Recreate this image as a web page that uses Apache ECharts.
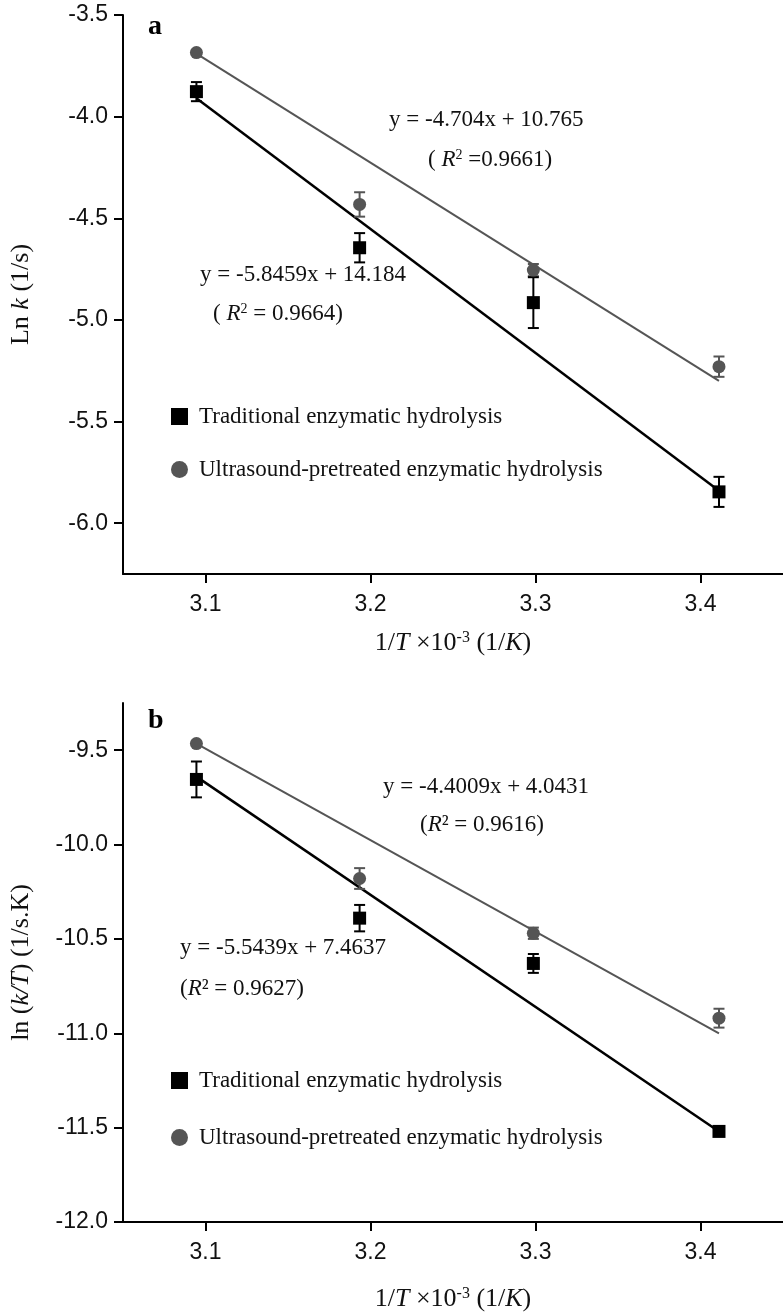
<!DOCTYPE html>
<html><head><meta charset="utf-8">
<script src="https://cdn.jsdelivr.net/npm/echarts@6/dist/echarts.min.js"></script>
<style>html,body{margin:0;padding:0;background:#fff}#c{width:783px;height:1316px}</style>
</head><body><div id="c"></div>
<script>
// ---- data ----
const xTicks = [3.1, 3.2, 3.3, 3.4];
const yTicksA = [-6.0, -5.5, -5.0, -4.5, -4.0, -3.5];
const yTicksB = [-12.0, -11.5, -11.0, -10.5, -10.0, -9.5];
const invT = [3.0945, 3.1934, 3.2987, 3.4112];
const aTradVal = [-3.877, -4.645, -4.915, -5.846];
const aTradErr = [0.047, 0.072, 0.125, 0.074];
const aUltraVal = [-3.685, -4.432, -4.755, -5.23];
const aUltraErr = [0.01, 0.06, 0.03, 0.05];
const bTradVal = [-9.655, -10.39, -10.63, -11.52];
const bTradErr = [0.095, 0.07, 0.05, 0.015];
const bUltraVal = [-9.465, -10.18, -10.47, -10.92];
const bUltraErr = [0.01, 0.055, 0.03, 0.05];
// trend line end values (at first and last x)
const fitX = [3.0945, 3.4112];
const aTradFit = [-3.91, -5.84];
const aUltraFit = [-3.69, -5.30];
const bTradFit = [-9.64, -11.52];
const bUltraFit = [-9.465, -11.0];
const nameTrad = 'Traditional enzymatic hydrolysis';
const nameUltra = 'Ultrasound-pretreated enzymatic hydrolysis';

const SERIF = "'Liberation Serif', 'Times New Roman', serif";
const SANS = "'Liberation Sans', Arial, sans-serif";
const GRAY = '#555555';
const BLACK = '#000000';

function pts(vals){ return invT.map((x,i)=>[x, vals[i]]); }
function errPts(vals, errs){ return invT.map((x,i)=>[x, vals[i], errs[i]]); }
function fitPts(v){ return fitX.map((x,i)=>[x, v[i]]); }

function errRender(color){
  return function(params, api){
    const x = api.value(0), y = api.value(1), e = api.value(2);
    const t = api.coord([x, y + e]), b = api.coord([x, y - e]);
    const hw = 5.5;
    const st = {stroke: color, lineWidth: 2};
    return {type:'group', children:[
      {type:'line', shape:{x1:t[0], y1:t[1], x2:b[0], y2:b[1]}, style:st},
      {type:'line', shape:{x1:t[0]-hw, y1:t[1], x2:t[0]+hw, y2:t[1]}, style:st},
      {type:'line', shape:{x1:b[0]-hw, y1:b[1], x2:b[0]+hw, y2:b[1]}, style:st}
    ]};
  };
}

const richText = {
  t: {fontFamily: SERIF, fontSize: 23, color: '#111'},
  i: {fontFamily: SERIF, fontSize: 23, fontStyle: 'italic', color: '#111'},
  s: {fontFamily: SERIF, fontSize: 14, color: '#111', verticalAlign: 'top'}
};
const richTitle = {
  t: {fontFamily: SERIF, fontSize: 26, color: '#111'},
  i: {fontFamily: SERIF, fontSize: 26, fontStyle: 'italic', color: '#111'},
  s: {fontFamily: SERIF, fontSize: 16, color: '#111', verticalAlign: 'top'}
};

function xAxisDef(gi){
  return {
    type: 'value', gridIndex: gi, min: 3.05, max: 3.45,
    name: '{t|1/}{i|T}{t| ×10}{s|-3}{t| (1/}{i|K}{t|)}',
    nameLocation: 'middle', nameGap: gi === 0 ? 56 : 64,
    nameTextStyle: {rich: richTitle},
    axisLine: {onZero: false, lineStyle: {color: BLACK, width: 2}},
    axisTick: {customValues: xTicks, length: 9, lineStyle: {color: BLACK, width: 2}},
    axisLabel: {customValues: xTicks, margin: 19, fontFamily: SANS, fontSize: 23, color: '#111',
      formatter: v => v.toFixed(1)},
    splitLine: {show: false}
  };
}
function yAxisDef(gi, ticks, min, max, nameStr){
  return {
    type: 'value', gridIndex: gi, min: min, max: max,
    name: nameStr, nameLocation: 'middle', nameRotate: 90, nameGap: 89,
    nameTextStyle: {rich: richTitle},
    axisLine: {onZero: false, lineStyle: {color: BLACK, width: 2}},
    axisTick: {customValues: ticks, length: 9, lineStyle: {color: BLACK, width: 2}},
    axisLabel: {customValues: ticks, margin: 15, fontFamily: SANS, fontSize: 23, color: '#111',
      formatter: v => v.toFixed(1)},
    splitLine: {show: false}
  };
}

function panelSeries(gi, tradV, tradE, ultV, ultE, tradFit, ultFit){
  return [
    {type:'line', xAxisIndex:gi, yAxisIndex:gi, data: fitPts(ultFit), symbol:'none',
      lineStyle:{color: GRAY, width: 2}, z: 2, silent: true},
    {type:'line', xAxisIndex:gi, yAxisIndex:gi, data: fitPts(tradFit), symbol:'none',
      lineStyle:{color: BLACK, width: 2.5}, z: 2, silent: true},
    {type:'custom', xAxisIndex:gi, yAxisIndex:gi, data: errPts(ultV, ultE),
      renderItem: errRender(GRAY), encode:{x:0, y:1}, z: 3, silent: true},
    {type:'custom', xAxisIndex:gi, yAxisIndex:gi, data: errPts(tradV, tradE),
      renderItem: errRender(BLACK), encode:{x:0, y:1}, z: 3, silent: true},
    {type:'scatter', name: nameUltra, xAxisIndex:gi, yAxisIndex:gi, data: pts(ultV),
      symbol:'circle', symbolSize: 13, itemStyle:{color: GRAY, opacity: 1}, z: 5},
    {type:'scatter', name: nameTrad, xAxisIndex:gi, yAxisIndex:gi, data: pts(tradV),
      symbol:'rect', symbolSize: 13, itemStyle:{color: BLACK, opacity: 1}, z: 6}
  ];
}

function legendDef(top, gap){
  return {
    data: [{name: nameTrad, icon: 'rect'}, {name: nameUltra, icon: 'circle'}],
    orient: 'vertical', left: 166, top: top, itemWidth: 17, itemHeight: 17, itemGap: gap,
    selectedMode: false,
    textStyle: {fontFamily: SERIF, fontSize: 23, color: '#111', padding: [0,0,0,6]}
  };
}

function txt(x, y, str){
  return {type:'text', x: x, y: y,
    style: {text: str, rich: richText, align: 'left', verticalAlign: 'middle',
      fontFamily: SERIF, fontSize: 23, fill: '#111'}};
}

const chart = echarts.init(document.getElementById('c'), null, {renderer: 'canvas'});
chart.setOption({
  animation: false,
  backgroundColor: '#ffffff',
  grid: [
    {left: 123, top: 15, width: 660, height: 559},
    {left: 122, top: 703, width: 661, height: 519}
  ],
  xAxis: [xAxisDef(0), xAxisDef(1)],
  yAxis: [
    yAxisDef(0, yTicksA, -6.25, -3.5, '{t|Ln }{i|k}{t| (1/s)}'),
    yAxisDef(1, yTicksB, -12.0, -9.25, '{t|ln (}{i|k/T}{t|) (1/s.K)}')
  ],
  legend: [legendDef(400, 30), legendDef(1064, 34)],
  series: [].concat(
    panelSeries(0, aTradVal, aTradErr, aUltraVal, aUltraErr, aTradFit, aUltraFit),
    panelSeries(1, bTradVal, bTradErr, bUltraVal, bUltraErr, bTradFit, bUltraFit)
  ),
  graphic: [
    {type:'text', x: 148, y: 27, style:{text:'a', fontFamily: SERIF, fontWeight:'bold', fontSize: 28, fill:'#000', verticalAlign:'middle'}},
    {type:'text', x: 148, y: 721, style:{text:'b', fontFamily: SERIF, fontWeight:'bold', fontSize: 28, fill:'#000', verticalAlign:'middle'}},
    txt(389, 120, '{t|y = -4.704x + 10.765}'),
    txt(428, 160, '{t|( }{i|R}{s|2}{t| =0.9661)}'),
    txt(200, 275, '{t|y = -5.8459x + 14.184}'),
    txt(213, 314, '{t|( }{i|R}{s|2}{t| = 0.9664)}'),
    txt(383, 787, '{t|y = -4.4009x + 4.0431}'),
    txt(420, 825, '{t|(}{i|R}{t|² = 0.9616)}'),
    txt(180, 948, '{t|y = -5.5439x + 7.4637}'),
    txt(180, 989, '{t|(}{i|R}{t|² = 0.9627)}')
  ]
});
</script>
</body></html>
